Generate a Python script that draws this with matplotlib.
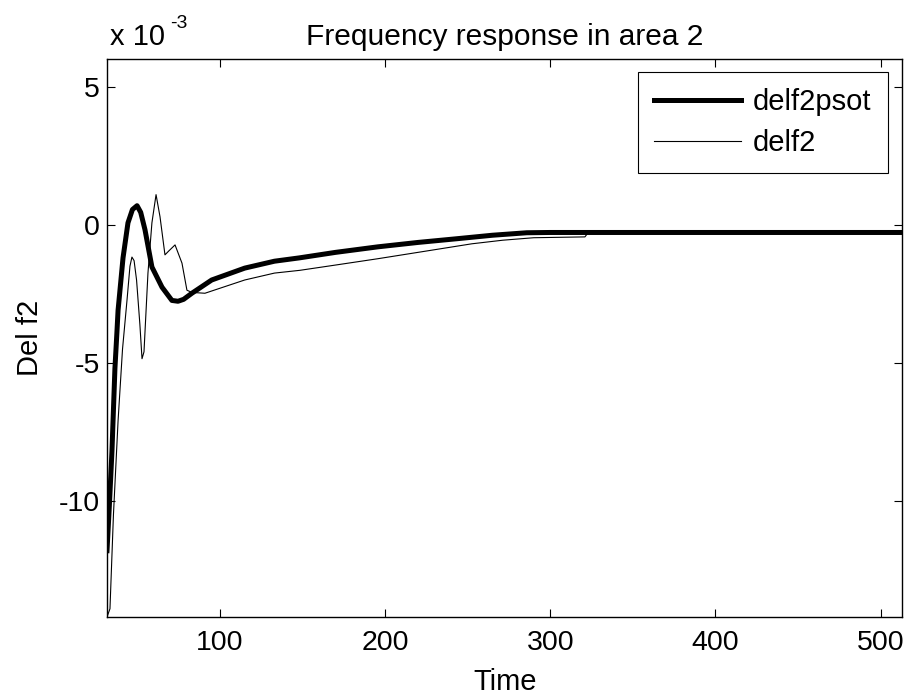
import matplotlib
matplotlib.use("Agg")
import matplotlib.pyplot as plt

plt.rcParams['font.family'] = ['Liberation Sans', 'DejaVu Sans']
plt.rcParams['axes.unicode_minus'] = False

# Data (values of Del f2 in units of 1e-3)
time_psot = [31.6, 33.0, 34.6, 36.4, 37.6, 38.3, 41.3, 44.3, 47.0, 49.8, 52.0, 54.6,
             58.8, 64.9, 70.9, 74.6, 78.0, 83.0, 95.0, 115.0, 133.0, 148.0, 170.0,
             195.6, 220.0, 242.8, 265.0, 285.8, 300.0, 350.0, 400.0, 450.0, 513.0]
delf2psot = [-11.8, -10.2, -8.2, -5.2, -3.9, -3.1, -1.2, 0.07, 0.55, 0.69, 0.45, -0.18,
             -1.53, -2.26, -2.74, -2.77, -2.70, -2.48, -2.0, -1.57, -1.32, -1.2, -1.0,
             -0.80, -0.64, -0.51, -0.38, -0.29, -0.28, -0.28, -0.28, -0.28, -0.28]

time_delf2 = [31.6, 33.4, 35.5, 38.3, 41.0, 43.7, 45.5, 46.7, 48.0, 49.5, 51.5, 52.8,
              54.0, 56.4, 58.8, 61.3, 63.7, 66.7, 69.0, 72.8, 77.0, 80.0, 83.0, 90.9,
              115.0, 133.0, 148.4, 171.0, 195.6, 222.0, 252.5, 271.2, 290.0, 321.0,
              323.0, 400.0, 513.0]
delf2 = [-14.2, -13.9, -10.5, -7.1, -4.5, -2.74, -1.5, -1.17, -1.3, -2.0, -3.6, -4.85,
         -4.6, -1.75, 0.07, 1.09, 0.29, -1.09, -0.95, -0.73, -1.39, -2.37, -2.45, -2.48,
         -2.0, -1.75, -1.65, -1.45, -1.23, -0.98, -0.69, -0.56, -0.47, -0.44,
         -0.28, -0.28, -0.28]

xticks = [100, 200, 300, 400, 500]
yticks = [-10, -5, 0, 5]

W, H = 911, 699
fig = plt.figure(figsize=(W / 100, H / 100), dpi=100)
L, R, T, B = 107, 902, 59, 617
ax = fig.add_axes([L / W, 1 - B / H, (R - L) / W, (B - T) / H])

ax.plot(time_psot, delf2psot, color='black', lw=3.6, label='delf2psot',
        solid_joinstyle='round')
ax.plot(time_delf2, delf2, color='black', lw=0.8, label='delf2')

ax.set_xlim(31.6, 513)
ax.set_ylim(-14.2, 6.0)
ax.set_xticks(xticks)
ax.set_yticks(yticks)
ax.tick_params(direction='in', length=6, width=0.8, top=True, right=True,
               labelsize=20.5)
ax.tick_params(axis='x', pad=9)
ax.tick_params(axis='y', pad=5)
for s in ax.spines.values():
    s.set_linewidth(1.0)

ax.set_title('Frequency response in area 2', fontsize=21.5, pad=10)
fig.text(505 / W, 1 - 690 / H, 'Time', fontsize=21, ha='center', va='baseline')
fig.text(30 / W, 1 - 338 / H, 'Del f2', fontsize=21, ha='center', va='center',
         rotation=90)
fig.text(110 / W, 1 - 45 / H, 'x 10', fontsize=21, ha='left', va='baseline')
fig.text(170 / W, 1 - 28 / H, '-3', fontsize=14, ha='left', va='baseline')

leg = ax.legend(loc='upper right', bbox_to_anchor=(0.982, 0.977), borderaxespad=0,
                fontsize=21, handlelength=3.0, handletextpad=0.4,
                labelspacing=0.45, borderpad=0.55, fancybox=False,
                edgecolor='black', framealpha=1)
leg.get_frame().set_linewidth(0.8)

fig.savefig('out.png', dpi=100)
